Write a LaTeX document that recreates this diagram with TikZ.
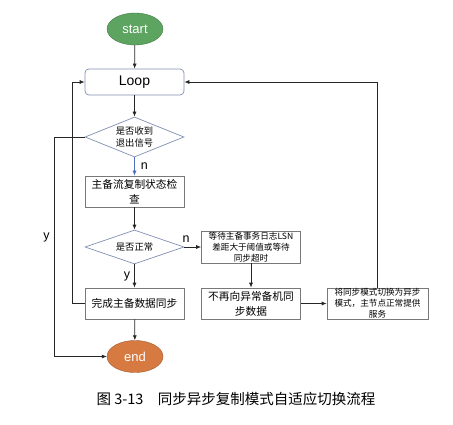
\documentclass[tikz,border=0pt]{standalone}
\usepackage{fontspec}
\setmainfont{Liberation Sans}
\newfontfamily\cjk{Noto Sans CJK SC}
\usetikzlibrary{positioning, arrows.meta, shapes.geometric}

\definecolor{startgreen}{RGB}{92,164,96}
\definecolor{endorange}{RGB}{214,122,66}
\definecolor{boxgray}{RGB}{120,120,120}
\definecolor{decblue}{RGB}{128,142,176}
\definecolor{linkblue}{RGB}{80,110,190}

\begin{document}
\begin{tikzpicture}[
	% one unit is one pixel of the reference
	x=1pt, y=-1pt,
	% Style for start and end
	terminal/.style={
		ellipse,
		draw=#1!75!black,
		fill=#1,
		text=white,
		minimum width=56pt,
		minimum height=32pt,
		inner sep=0pt,
		font=\fontsize{13}{15}\selectfont
	},
	% Style for the loop head
	loophead/.style={
		rectangle,
		rounded corners=4pt,
		draw=decblue,
		line width=0.7pt,
		minimum width=99pt,
		minimum height=26pt,
		font=\fontsize{14}{16}\selectfont
	},
	% Style for the plain steps
	process/.style={
		rectangle,
		draw=boxgray,
		line width=0.7pt,
		minimum width=99pt,
		minimum height=31pt,
		inner sep=0pt,
		align=center,
		font=\cjk\fontsize{10.7}{15}\selectfont
	},
	small/.style={
		font=\cjk\fontsize{8.6}{11}\selectfont
	},
	% Style for the questions
	decision/.style={
		diamond,
		aspect=2.5,
		draw=decblue,
		line width=0.7pt,
		minimum width=99pt,
		minimum height=#1,
		inner sep=0pt,
		align=center,
		font=\cjk\fontsize{9.3}{12.5}\selectfont
	},
	arr/.style={
		draw=black!85,
		line width=0.7pt,
		-{Latex[length=5pt, width=4pt]}
	},
	lbl/.style={
		font=\fontsize{12.5}{13}\selectfont,
		inner sep=3pt
	}
	]
	\useasboundingbox (0,0) rectangle (453,425);
	
	% main column
	\node[terminal=startgreen] (start) at (135,29) {start};
	\node[loophead] (loop) at (134.5,82) {Loop};
	\node[decision=40pt] (q1) at (134.5,137) {是否收到\\退出信号};
	\node[process] (check) at (134.5,191.5) {主备流复制状态检\\查};
	\node[decision=34pt] (q2) at (134.5,247) {是否正常};
	\node[process] (sync) at (134.5,303.5) {完成主备数据同步};
	\node[terminal=endorange] (end) at (135,356.5) {end};
	
	% right branch
	\node[process, small, minimum height=32pt] (wait) at (251,247) {等待主备事务日志LSN\\差距大于阈值或等待\\同步超时};
	\node[process] (stop) at (251,303.5) {不再向异常备机同\\步数据};
	\node[process, small, minimum width=101pt] (switch) at (377.5,303.5) {将同步模式切换为异步\\模式，主节点正常提供\\服务};
	
	% caption
	\node[font=\cjk\fontsize{14.5}{16}\selectfont] (caption) at (236,399) {图 3-13\quad 同步异步复制模式自适应切换流程};
	
	\coordinate (yturn) at (54,137);
	\coordinate (backturn) at (72,303.5);
	
	\draw[arr] (start) -- (loop);
	\draw[arr] (loop) -- (q1);
	\draw[arr, draw=linkblue] (q1) -- node[lbl, right, xshift=3pt] {n} (check);
	\draw[arr] (check) -- (q2);
	\draw[arr] (q2) -- node[lbl, left, xshift=-1pt] {y} (sync);
	\draw[arr] (sync) -- (end);
	\draw[arr] (q2) -- node[lbl, above, pos=0.1, yshift=1pt] {n} (wait);
	\draw[arr] (wait) -- (stop);
	\draw[arr] (stop) -- (switch);
	\draw[arr] (switch.north) |- (loop.east);
	\draw[arr] (q1.west) -- (yturn) |- node[lbl, left, pos=0.228, xshift=-1pt] {y} (end.west);
	\draw[arr] (sync.west) -- (backturn) |- (loop.west);
	
\end{tikzpicture}
\end{document}
